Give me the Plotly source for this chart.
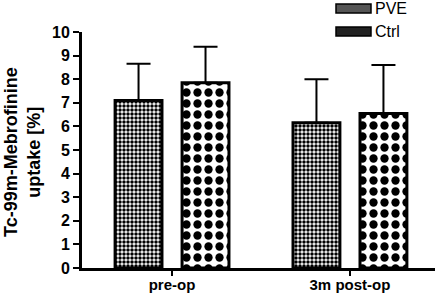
import plotly.graph_objects as go

categories = ["pre-op", "3m post-op"]
pve_values = [7.1, 6.15]
pve_err = [1.55, 1.85]
ctrl_values = [7.85, 6.55]
ctrl_err = [1.52, 2.05]
y_ticks = list(range(0, 11))
legend_names = ["PVE", "Ctrl"]
y_title = "Tc-99m-Mebrofinine<br>uptake [%]"

FONT = "Liberation Sans, Arial, sans-serif"
W, H = 441, 296
L, R, T, B = 82, 6, 32, 28
PW, PH = W - L - R, H - T - B


def px_x(x):
    return (x - L) / PW


def px_y(y):
    return (H - B - y) / PH


fig = go.Figure()
fig.add_trace(go.Bar(
    name="PVE", x=categories, y=pve_values,
    marker=dict(color="white", line=dict(color="black", width=3),
                pattern=dict(shape=".", fgcolor="black", bgcolor="white", size=4,
                             solidity=0.6, fillmode="replace", fgopacity=1)),
    error_y=dict(type="data", array=pve_err, arrayminus=[0, 0], symmetric=False,
                 color="black", thickness=2, width=12),
))
fig.add_trace(go.Bar(
    name="Ctrl", x=categories, y=ctrl_values,
    marker=dict(color="white", line=dict(color="black", width=3),
                pattern=dict(shape=".", fgcolor="black", bgcolor="white", size=11,
                             solidity=0.45, fillmode="replace", fgopacity=1)),
    error_y=dict(type="data", array=ctrl_err, arrayminus=[0, 0], symmetric=False,
                 color="black", thickness=2, width=12),
))

# Manual legend (wide dark swatches like the reference)
legend_fill = ["#555555", "#222222"]
for i, name in enumerate(legend_names):
    y_top = 4 + i * 23
    fig.add_shape(type="rect", xref="paper", yref="paper",
                  x0=px_x(336), x1=px_x(371), y0=px_y(y_top + 9), y1=px_y(y_top),
                  fillcolor=legend_fill[i], line=dict(color="black", width=1.5), layer="above")
    fig.add_annotation(text=name, xref="paper", yref="paper",
                       x=px_x(373), y=px_y(y_top + 4.5),
                       xanchor="left", yanchor="middle", showarrow=False,
                       font=dict(size=16, family=FONT, color="black"))

# Y axis title as annotation for precise placement
fig.add_annotation(text=y_title, xref="paper", yref="paper",
                   x=px_x(22), y=px_y(152), xanchor="center", yanchor="middle",
                   textangle=-90, showarrow=False,
                   font=dict(size=18, family=FONT, color="black", weight="bold"))

fig.update_layout(
    width=W, height=H,
    margin=dict(l=L, r=R, t=T, b=B, autoexpand=False),
    paper_bgcolor="white", plot_bgcolor="white",
    barmode="group", bargap=0.247, bargroupgap=0.3,
    font=dict(family=FONT, color="black"),
    showlegend=False,
)
fig.update_xaxes(
    range=[-0.506, 1.478], showline=True, linecolor="black", linewidth=3,
    ticks="outside", ticklen=5, tickwidth=2, tickcolor="black",
    tickfont=dict(size=15, family=FONT, weight="bold"),
    ticklabelstandoff=-4, automargin=False,
    showgrid=False, zeroline=False,
)
fig.update_yaxes(
    range=[0, 10], tickvals=y_ticks, showline=True, linecolor="black", linewidth=3,
    ticks="outside", ticklen=6, tickwidth=2, tickcolor="black",
    tickfont=dict(size=16, family=FONT, weight="bold"),
    showgrid=False, zeroline=False, automargin=False,
)

fig.write_html("out.html", config={"displayModeBar": False},
               post_script="document.body.style.margin='0';document.body.style.overflow='hidden';")
